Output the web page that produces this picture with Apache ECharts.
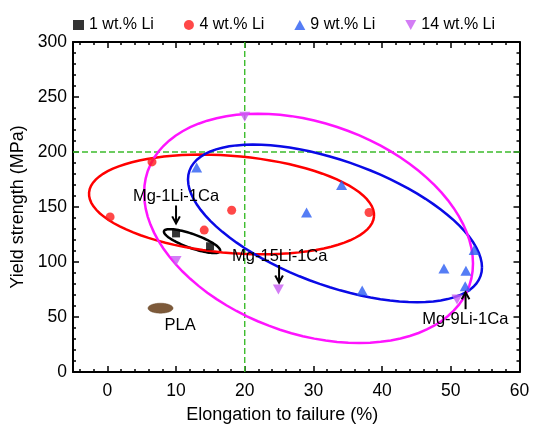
<!DOCTYPE html>
<html>
<head>
<meta charset="utf-8">
<script src="https://cdn.jsdelivr.net/npm/echarts@6/dist/echarts.min.js"></script>
<style>
html,body{margin:0;padding:0;background:#fff;}
#chart{width:533px;height:429px;}
</style>
</head>
<body>
<div id="chart"></div>
<script>
// ---- data ----
const seriesNames = ['1 wt.% Li', '4 wt.% Li', '9 wt.% Li', '14 wt.% Li'];
const li1 = [[10.0, 126], [14.95, 114.3]];
const li4 = [[0.4, 141], [6.5, 191], [14.1, 129], [18.1, 147], [38.1, 145]];
const li9 = [[13.0, 186], [34.1, 170], [29.0, 145], [37.1, 74], [49.0, 94], [52.2, 92], [52.1, 78], [53.4, 111]];
const li14 = [[20.0, 232], [24.9, 75], [10.0, 101], [50.9, 66]];

// ellipses: [cx, cy, ux, uy, vx, vy] in data units (center + conjugate semi-axes)
const groupEllipses = [
  [12.33, 119.0, 4.08, -9.07, -0.34, -5.98],
  [18.08, 152.3, 20.74, -10.88, -0.6, -44.0],
  [33.14, 135.1, 21.4, -39.9, 0, 59.5],
  [29.29, 130.6, 23.94, -32.0, 0, 99.2]
];
const plaRegion = [[7.74, 58.0, 1.82, 0, 0, 4.53]];

const labelTexts = ['Mg-1Li-1Ca', 'Mg-15Li-1Ca', 'Mg-9Li-1Ca', 'PLA'];
const labelPos = [[10.0, 160], [25.1, 105.4], [52.1, 47.4], [10.6, 42]];
// arrows: [x, yTail, yHead]
const arrows = [[10, 151.4, 135.1], [25, 97.3, 81.3], [52.15, 57.1, 72.5]];

const refLineX = [20];
const refLineY = [200];

const xMajor = [0, 10, 20, 30, 40, 50, 60];
const xMinor = [-4, -2, 2, 4, 6, 8, 12, 14, 16, 18, 22, 24, 26, 28, 32, 34, 36, 38, 42, 44, 46, 48, 52, 54, 56, 58];

// ---- styles ----
const FONT = 'Liberation Sans, Arial, sans-serif';
const colors = ['#000000', '#ff1a1a', '#2b5cf2', '#c85cf2'];
const ellipseColors = ['#000000', '#ff0000', '#0a0ae6', '#ff14ff'];
const downTri = 'path://M0,0 L10,0 L5,9 Z';

const chart = echarts.init(document.getElementById('chart'));

function ellipsePoints(api, v) {
  const pts = [];
  for (let i = 0; i <= 90; i++) {
    const t = i / 90 * Math.PI * 2;
    const c = Math.cos(t), s = Math.sin(t);
    pts.push(api.coord([v[0] + v[2] * c + v[4] * s, v[1] + v[3] * c + v[5] * s]));
  }
  return pts;
}

const xAxisBase = {
  type: 'value', min: -5, max: 60,
  splitLine: {show: false}
};
const axisLineStyle = {color: '#000', width: 2};
const tickStyle = {color: '#000', width: 1.5};

const option = {
  animation: false,
  backgroundColor: '#fff',
  grid: {left: 73, right: 13.5, top: 42, bottom: 56, containLabel: false},
  legend: {
    data: seriesNames,
    top: 12, left: 68,
    itemGap: 30, itemWidth: 11, itemHeight: 10,
    textStyle: {fontFamily: FONT, fontSize: 16, color: '#000'}
  },
  xAxis: [
    Object.assign({}, xAxisBase, {
      position: 'bottom',
      name: 'Elongation to failure (%)', nameLocation: 'middle', nameGap: 34,
      nameTextStyle: {fontFamily: FONT, fontSize: 18, color: '#000', padding: [0, 28, 0, 0]},
      axisLine: {onZero: false, lineStyle: axisLineStyle},
      axisTick: {inside: true, length: 6, customValues: xMajor, lineStyle: tickStyle},
      axisLabel: {customValues: xMajor, margin: 10, fontFamily: FONT, fontSize: 17.5, color: '#000'}
    }),
    Object.assign({}, xAxisBase, {
      position: 'bottom',
      axisLine: {show: false, onZero: false},
      axisTick: {inside: true, length: 3, customValues: xMinor, lineStyle: tickStyle},
      axisLabel: {show: false}
    }),
    Object.assign({}, xAxisBase, {
      position: 'top',
      axisLine: {onZero: false, lineStyle: axisLineStyle},
      axisTick: {inside: true, length: 6, customValues: xMajor, lineStyle: tickStyle},
      axisLabel: {show: false}
    }),
    Object.assign({}, xAxisBase, {
      position: 'top',
      axisLine: {show: false, onZero: false},
      axisTick: {inside: true, length: 3, customValues: xMinor, lineStyle: tickStyle},
      axisLabel: {show: false}
    })
  ],
  yAxis: [
    {
      type: 'value', min: 0, max: 300, interval: 50, position: 'left',
      name: 'Yield strength (MPa)', nameLocation: 'middle', nameGap: 45,
      nameTextStyle: {fontFamily: FONT, fontSize: 18, color: '#000'},
      axisLine: {show: true, onZero: false, lineStyle: axisLineStyle},
      axisTick: {show: true, inside: true, length: 6, lineStyle: tickStyle},
      minorTick: {show: true, splitNumber: 5, length: 3, lineStyle: tickStyle},
      axisLabel: {margin: 6, fontFamily: FONT, fontSize: 17.5, color: '#000'},
      splitLine: {show: false}
    },
    {
      type: 'value', min: 0, max: 300, interval: 50, position: 'right',
      axisLine: {show: true, onZero: false, lineStyle: axisLineStyle},
      axisTick: {show: true, inside: true, length: 6, lineStyle: tickStyle},
      minorTick: {show: true, splitNumber: 5, length: 3, lineStyle: tickStyle},
      axisLabel: {show: false},
      splitLine: {show: false}
    }
  ],
  series: [
    {
      type: 'custom', name: 'refLines', silent: true, z: 1,
      data: [[0, 0]],
      renderItem: function (params, api) {
        const a = api.coord([refLineX[0], 0]);
        const b = api.coord([refLineX[0], 300]);
        const c = api.coord([-5, refLineY[0]]);
        const d = api.coord([60, refLineY[0]]);
        const st = {stroke: '#3cbc2c', lineWidth: 1.4, lineDash: [6, 3]};
        return {type: 'group', children: [
          {type: 'line', shape: {x1: a[0], y1: a[1], x2: b[0], y2: b[1]}, style: st},
          {type: 'line', shape: {x1: c[0], y1: c[1], x2: d[0], y2: d[1]}, style: st}
        ]};
      }
    },
    {
      type: 'custom', name: 'pla', silent: true, z: 2,
      data: plaRegion,
      encode: {x: 0, y: 1},
      renderItem: function (params, api) {
        const v = [0, 1, 2, 3, 4, 5].map(i => api.value(i));
        return {type: 'polygon', shape: {points: ellipsePoints(api, v)}, style: {fill: '#7d5a3a', stroke: '#6b4a2c', lineWidth: 0.5}};
      }
    },
    {
      type: 'custom', name: 'ellipses', silent: true, z: 3,
      data: groupEllipses,
      encode: {x: 0, y: 1},
      renderItem: function (params, api) {
        const v = [0, 1, 2, 3, 4, 5].map(i => api.value(i));
        return {type: 'polyline', shape: {points: ellipsePoints(api, v)}, style: {fill: null, stroke: ellipseColors[params.dataIndex], lineWidth: 2.5}};
      }
    },
    {
      type: 'scatter', name: seriesNames[0], data: li1, symbol: 'rect', symbolSize: 8,
      itemStyle: {color: colors[0]}, z: 5
    },
    {
      type: 'scatter', name: seriesNames[1], data: li4, symbol: 'circle', symbolSize: 9,
      itemStyle: {color: colors[1]}, z: 5
    },
    {
      type: 'scatter', name: seriesNames[2], data: li9, symbol: 'triangle', symbolSize: [11, 10],
      itemStyle: {color: colors[2]}, z: 5
    },
    {
      type: 'scatter', name: seriesNames[3], data: li14, symbol: downTri, symbolSize: [11, 10],
      itemStyle: {color: colors[3]}, z: 5
    },
    {
      type: 'custom', name: 'arrows', silent: true, z: 6,
      data: arrows,
      encode: {x: 0, y: 1},
      renderItem: function (params, api) {
        const x = api.value(0), y0 = api.value(1), y1 = api.value(2);
        const p0 = api.coord([x, y0]), p1 = api.coord([x, y1]);
        const dx = p1[0] - p0[0], dy = p1[1] - p0[1];
        const L = Math.sqrt(dx * dx + dy * dy);
        const ux = dx / L, uy = dy / L;
        const h = 8, ang = 0.5;
        const ca = Math.cos(ang), sa = Math.sin(ang);
        const l1 = [p1[0] - h * (ux * ca - uy * sa), p1[1] - h * (uy * ca + ux * sa)];
        const l2 = [p1[0] - h * (ux * ca + uy * sa), p1[1] - h * (uy * ca - ux * sa)];
        const st = {stroke: '#000', lineWidth: 2, fill: null};
        return {type: 'group', children: [
          {type: 'line', shape: {x1: p0[0], y1: p0[1], x2: p1[0], y2: p1[1]}, style: st},
          {type: 'polyline', shape: {points: [l1, p1, l2]}, style: st}
        ]};
      }
    },
    {
      type: 'custom', name: 'labels', silent: true, z: 7,
      data: labelPos,
      encode: {x: 0, y: 1},
      renderItem: function (params, api) {
        const p = api.coord([api.value(0), api.value(1)]);
        return {type: 'text', x: p[0], y: p[1], style: {
          text: labelTexts[params.dataIndex], fill: '#000',
          fontFamily: FONT, fontSize: 16.5, align: 'center', verticalAlign: 'middle'
        }};
      }
    }
  ]
};
chart.setOption(option);
</script>
</body>
</html>
